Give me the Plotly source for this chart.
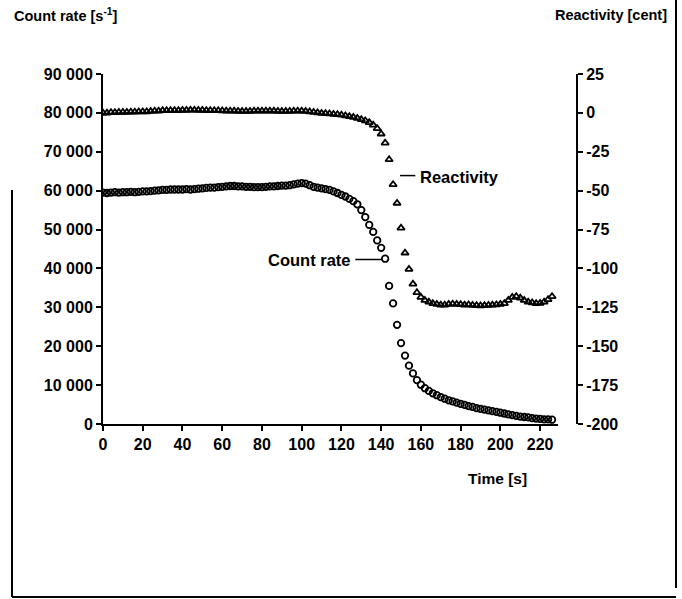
import plotly.graph_objects as go

# ---------------- data ----------------
time_s = [0, 2, 4, 6, 8, 10, 12, 14, 16, 18, 20, 22, 24, 26, 28, 30, 32, 34, 36, 38,
          40, 42, 44, 46, 48, 50, 52, 54, 56, 58, 60, 62, 64, 66, 68, 70, 72, 74, 76, 78,
          80, 82, 84, 86, 88, 90, 92, 94, 96, 98, 100, 102, 104, 106, 108, 110, 112, 114, 116, 118,
          120, 122, 124, 126, 128, 130, 132, 134, 136, 138, 140, 142, 144, 146, 148, 150, 152, 154, 156, 158,
          160, 162, 164, 166, 168, 170, 172, 174, 176, 178, 180, 182, 184, 186, 188, 190, 192, 194, 196, 198,
          200, 202, 204, 206, 208, 210, 212, 214, 216, 218, 220, 222, 224, 226]

count_rate = [59500, 59400, 59500, 59600, 59500, 59600, 59600, 59700, 59600, 59700,
              59800, 59800, 59900, 60000, 60100, 60200, 60200, 60300, 60300, 60300,
              60300, 60400, 60300, 60400, 60500, 60600, 60700, 60800, 60800, 60900,
              61000, 61100, 61200, 61200, 61100, 61100, 61000, 61000, 60900, 60900,
              60900, 61000, 61100, 61100, 61200, 61300, 61300, 61400, 61600, 61800,
              61950, 61800, 61400, 61000, 60800, 60600, 60400, 60200, 59800, 59400,
              58900, 58500, 57900, 57300, 56500, 55000, 53200, 51200, 49400, 47200,
              45300, 42500, 35500, 31000, 25500, 20800, 17600, 15000, 13000, 11300,
              10100, 9200, 8500, 7900, 7400, 6900, 6500, 6100, 5800, 5500,
              5200, 4900, 4600, 4400, 4100, 3900, 3700, 3500, 3300, 3100,
              2900, 2700, 2500, 2300, 2100, 1900, 1800, 1700, 1500, 1400,
              1300, 1200, 1200, 1100]

reactivity = [0.0, 0.0, 0.3, 0.3, 0.5, 0.5, 0.5, 0.6, 0.6, 0.7,
              0.8, 0.8, 1.0, 1.2, 1.3, 1.5, 1.5, 1.6, 1.6, 1.6,
              1.7, 1.7, 1.8, 1.8, 1.7, 1.7, 1.6, 1.6, 1.5, 1.5,
              1.4, 1.3, 1.2, 1.2, 1.1, 1.0, 1.0, 1.1, 1.2, 1.2,
              1.3, 1.3, 1.2, 1.2, 1.1, 1.0, 1.0, 1.1, 1.2, 1.3,
              1.2, 1.0, 0.7, 0.4, 0.1, -0.2, -0.4, -0.6, -0.8, -1.0,
              -1.3, -1.8, -2.3, -2.8, -3.4, -4.2, -5.0, -6.2, -7.8, -10.0,
              -13.5, -19.3, -30.0, -46.0, -58.0, -74.0, -90.0, -100.5, -110.0, -115.5,
              -118.5, -120.5, -121.5, -122.5, -123.0, -123.5, -123.5, -123.0, -122.8, -123.0,
              -123.2, -123.5, -123.3, -123.6, -123.8, -124.0, -123.8, -123.6, -123.5, -123.3,
              -123.0, -122.5, -120.5, -118.5, -118.0, -119.0, -120.5, -121.5, -122.0, -122.5,
              -122.3, -121.5, -120.0, -118.0]

count_ticks = [0, 10000, 20000, 30000, 40000, 50000, 60000, 70000, 80000, 90000]
count_tick_text = ["0", "10 000", "20 000", "30 000", "40 000", "50 000",
                   "60 000", "70 000", "80 000", "90 000"]
react_ticks = [-200, -175, -150, -125, -100, -75, -50, -25, 0, 25]
react_tick_text = ["-200", "-175", "-150", "-125", "-100", "-75", "-50", "-25", "0", "25"]
time_ticks = [0, 20, 40, 60, 80, 100, 120, 140, 160, 180, 200, 220]

# ---------------- layout geometry (pixels) ----------------
W, H = 682, 599
L, R, T, B = 103, 577, 74, 424
def px_x(p):
    return (p - L) / (R - L)
def px_y(p):
    return (B - p) / (B - T)

FONT = "Liberation Sans, Arial, sans-serif"

fig = go.Figure()
fig.add_trace(go.Scatter(
    x=time_s, y=count_rate, mode="markers", name="Count rate",
    marker=dict(symbol="circle-open", size=6.5, color="black", line=dict(width=1.8, color="black")),
    yaxis="y"))
fig.add_trace(go.Scatter(
    x=time_s, y=reactivity, mode="markers", name="Reactivity",
    marker=dict(symbol="triangle-up-open", size=6.5, color="black", line=dict(width=1.8, color="black")),
    yaxis="y2"))

axis_common = dict(showgrid=False, zeroline=False, showline=True, linecolor="black",
                   linewidth=2, ticks="outside", ticklen=5, tickwidth=2, tickcolor="black",
                   tickfont=dict(family=FONT, size=16, color="black", weight="bold"))

fig.update_layout(
    width=W, height=H,
    margin=dict(l=L, r=W - R, t=T, b=H - B),
    paper_bgcolor="white", plot_bgcolor="white",
    showlegend=False,
    font=dict(family=FONT, color="black", weight="bold"),
    xaxis=dict(range=[0, 229], domain=[0, px_x(558)], tickvals=time_ticks, **axis_common),
    yaxis=dict(range=[0, 90000], tickvals=count_ticks, ticktext=count_tick_text, **axis_common),
    yaxis2=dict(range=[-200, 25], tickvals=react_ticks, ticktext=react_tick_text,
                overlaying="y", side="right", anchor="free", position=1.0, **axis_common),
)

def txt(text, x, y, xanchor, size=14, xref="paper", yref="paper"):
    fig.add_annotation(text=text, x=x, y=y, xref=xref, yref=yref, xanchor=xanchor,
                       yanchor="middle", showarrow=False,
                       font=dict(family=FONT, size=size, color="black", weight="bold"))

# axis titles
txt("Count rate [s<sup>-1</sup>]", px_x(12), px_y(15), "left", 14.5)
txt("Reactivity [cent]", px_x(669), px_y(15), "right", 14.5)
txt("Time [s]", px_x(497), px_y(478), "center", 15.5)

# in-plot labels with leader lines
txt("Reactivity", 158.3, -41.5, "left", 16.5, xref="x", yref="y2")
fig.add_shape(type="line", xref="x", yref="y2", x0=149.5, x1=157.2, y0=-40.3, y1=-40.3,
              line=dict(color="black", width=1.5))
txt("Count rate", 125.6, 42200, "right", 16.5, xref="x", yref="y")
fig.add_shape(type="line", xref="x", yref="y", x0=127.0, x1=140.6, y0=42300, y1=42300,
              line=dict(color="black", width=1.5))

# page frame lines
frame = dict(color="black", width=2)
fig.add_shape(type="line", xref="paper", yref="paper", x0=px_x(12), x1=px_x(12),
              y0=px_y(190), y1=px_y(597), line=frame)
fig.add_shape(type="line", xref="paper", yref="paper", x0=px_x(12), x1=px_x(676),
              y0=px_y(597), y1=px_y(597), line=frame)
fig.add_shape(type="line", xref="paper", yref="paper", x0=px_x(676), x1=px_x(676),
              y0=px_y(0), y1=px_y(588), line=frame)

fig.write_html("out.html")
